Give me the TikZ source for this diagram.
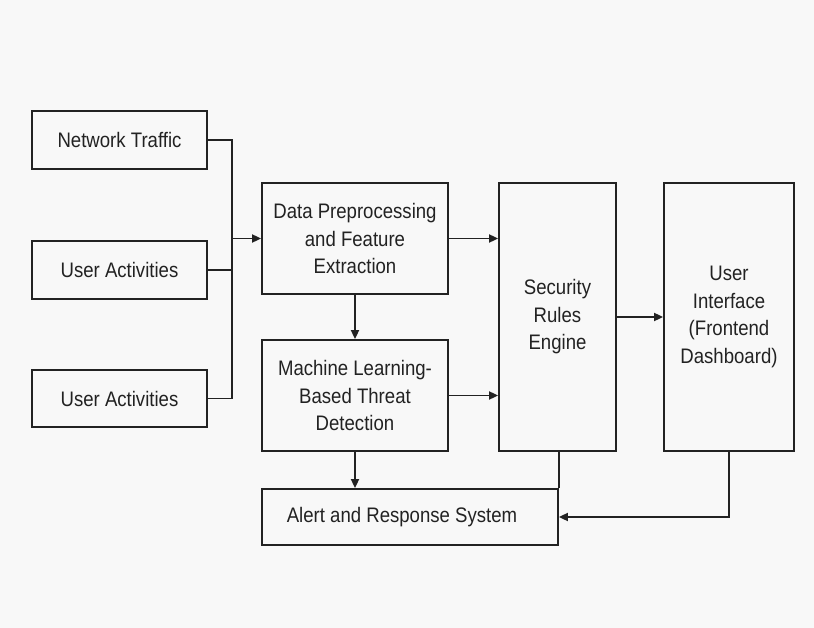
\documentclass[tikz,border=0pt]{standalone}
\usepackage{fontspec}
\setmainfont{Liberation Sans}[FakeStretch=0.885]
\usetikzlibrary{arrows.meta}
\definecolor{bg}{RGB}{248,248,248}
\definecolor{ink}{RGB}{34,34,34}
\tikzset{
  box/.style={draw=ink, line width=1.8pt, rectangle, inner sep=0pt, align=center,
    text=ink, font=\fontsize{21}{27.5}\selectfont},
  conn/.style={draw=ink, line width=1.8pt},
  arr/.style={conn, -{Triangle[length=9pt,width=8pt]}}
}
\begin{document}
\begin{tikzpicture}[x=1pt,y=-1pt]
\fill[bg] (0,0) rectangle (814,628);
\useasboundingbox (0,0) rectangle (814,628);
\node[box, minimum width=175pt, minimum height=58pt] (nt) at (119.5,140) {Network Traffic};
\node[box, minimum width=175pt, minimum height=58pt] (ua1) at (119.5,270) {User Activities};
\node[box, minimum width=175pt, minimum height=57pt] (ua2) at (119.5,398.5) {User Activities};
\node[box, minimum width=186pt, minimum height=111pt] (dp) at (355,238.5) {Data Preprocessing\\and Feature\\Extraction};
\node[box, minimum width=186pt, minimum height=111pt] (ml) at (355,395.5) {Machine Learning-\\Based Threat\\Detection};
\node[box, minimum width=117pt, minimum height=268pt] (sec) at (557.5,317) {Security\\Rules\\Engine};
\node[box, minimum width=130pt, minimum height=268pt] (ui) at (729,317) {User\\Interface\\(Frontend\\Dashboard)};
\node[box, minimum width=296pt, minimum height=56pt] (al) at (410,517) {\hspace*{-16pt}Alert and Response System};
\coordinate (bustop) at (232,140);
\coordinate (busbot) at (232,398.5);
\draw[conn] (nt.east) -- (bustop) -- (busbot) -- (ua2.east);
\draw[conn] (ua1.east) -- (ua1.east -| bustop);
\draw[arr] (bustop |- dp.west) -- (dp.west);
\draw[arr] (dp.south) -- (ml.north);
\draw[arr] (dp.east) -- (sec.west |- dp.east);
\draw[arr] (ml.east) -- (sec.west |- ml.east);
\draw[arr] (sec.east) -- (ui.west);
\draw[arr] (ml.south) -- (ml.south |- al.north);
\draw[conn] (al.north east |- sec.south) -- (al.north east);
\draw[arr] (ui.south) |- (al.east);
\end{tikzpicture}
\end{document}
